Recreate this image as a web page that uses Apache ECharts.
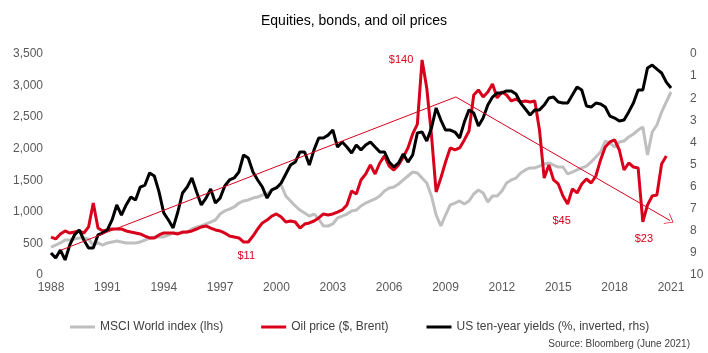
<!DOCTYPE html>
<html>
<head>
<meta charset="utf-8">
<title>Equities, bonds, and oil prices</title>
<script src="https://cdn.jsdelivr.net/npm/echarts@6/dist/echarts.min.js"></script>
<style>
  html, body { margin: 0; padding: 0; background: #fff; }
  #chart { width: 708px; height: 353px; }
</style>
</head>
<body>
<div id="chart"></div>
<script>
// quarterly points, 1988 Q2 .. 2021 Q2
const startYear = 1988
const startQuarter = 2

// MSCI World index (lhs)
const msci = [443, 475, 507, 554, 554, 570, 586, 586, 570, 475,
  507, 475, 507, 523, 538, 523, 507, 507, 507, 523,
  554, 586, 602, 602, 602, 633, 665, 665, 665, 681,
  729, 760, 776, 808, 839, 871, 966, 1014, 1045, 1077,
  1140, 1172, 1188, 1219, 1235, 1267, 1283, 1346, 1394, 1425,
  1251, 1172, 1093, 1029, 982, 934, 966, 887, 776, 776,
  808, 903, 934, 966, 1014, 1029, 1093, 1140, 1172, 1204,
  1251, 1330, 1378, 1394, 1441, 1505, 1568, 1631, 1615, 1536,
  1457, 1251, 950, 776, 950, 1109, 1140, 1172, 1124, 1172,
  1283, 1346, 1299, 1156, 1251, 1251, 1330, 1457, 1505, 1536,
  1615, 1663, 1695, 1695, 1726, 1758, 1774, 1742, 1710, 1710,
  1600, 1631, 1663, 1695, 1726, 1790, 1869, 1948, 2122, 2091,
  2027, 2106, 2122, 2186, 2233, 2296, 2344, 1900, 2265, 2376,
  2581, 2740, 2898]

// Brent, $ (own hidden scale)
const oil = [12.5, 11.1, 14.7, 16.9, 15.4, 16.1, 16.9, 15.4, 19.8, 37.1,
  19.0, 16.9, 17.6, 18.3, 18.3, 18.3, 16.9, 16.1, 15.4, 14.7,
  13.2, 11.8, 11.8, 14.0, 15.4, 15.4, 15.4, 14.7, 16.1, 16.1,
  16.9, 18.3, 19.8, 20.5, 19.0, 17.6, 16.9, 15.4, 13.2, 12.5,
  11.8, 8.9, 8.9, 13.2, 18.3, 22.7, 24.8, 27.7, 29.2, 27.0,
  23.4, 24.1, 23.4, 19.0, 21.9, 22.7, 24.1, 26.3, 29.2, 28.4,
  29.2, 30.6, 32.1, 35.7, 45.8, 43.7, 53.8, 58.1, 64.7, 58.1,
  66.1, 71.2, 63.9, 61.0, 64.7, 70.4, 77.0, 87.1, 94.3, 140.7,
  120.4, 86.4, 45.1, 55.2, 66.8, 77.0, 75.5, 77.0, 82.8, 89.3,
  115.3, 119.0, 113.9, 117.5, 123.3, 113.2, 117.5, 115.3, 111.0, 112.4,
  110.3, 111.0, 110.3, 111.0, 90.0, 55.2, 64.7, 53.8, 50.9, 42.2,
  36.4, 47.3, 44.4, 50.9, 54.5, 51.6, 56.7, 68.3, 77.7, 81.3,
  82.8, 75.5, 61.0, 66.1, 63.2, 62.5, 23.4, 35.7, 42.2, 42.9,
  65.4, 71.2]

// US 10y yield, % (rhs, inverted)
const yields = [9.0, 9.23, 8.87, 9.32, 8.64, 8.19, 7.96, 8.42, 8.78, 8.78,
  8.19, 8.1, 7.96, 7.51, 6.83, 7.29, 6.83, 6.47, 6.61, 6.02,
  5.93, 5.38, 5.52, 6.24, 7.19, 7.51, 7.87, 7.15, 6.29, 6.02,
  5.61, 6.24, 6.83, 6.52, 6.11, 6.74, 6.52, 5.97, 5.7, 5.61,
  5.34, 4.57, 4.71, 5.34, 5.7, 6.02, 6.52, 6.15, 6.06, 5.84,
  5.43, 5.02, 4.89, 4.43, 4.43, 5.02, 4.34, 3.8, 3.8, 3.67,
  3.44, 4.21, 3.98, 4.21, 4.48, 4.12, 4.34, 4.12, 3.98, 4.21,
  4.43, 4.43, 4.89, 5.11, 4.93, 4.52, 4.89, 4.57, 3.57, 3.53,
  3.94, 3.35, 2.44, 2.99, 3.44, 3.44, 3.53, 3.8, 3.08, 2.53,
  2.67, 3.26, 2.9, 2.31, 1.95, 1.76, 1.76, 1.67, 1.67, 1.81,
  2.22, 2.49, 2.76, 2.53, 2.53, 2.31, 1.99, 1.95, 2.17, 2.22,
  2.22, 1.86, 1.49, 1.63, 2.35, 2.4, 2.22, 2.26, 2.4, 2.81,
  2.9, 3.03, 2.99, 2.62, 2.22, 1.63, 1.63, 0.63, 0.5, 0.68,
  0.86, 1.27, 1.54]

// oil price call-outs: quarter index + text
const calloutIdx = [79, 42, 110, 126]
const calloutText = ['$140', '$11', '$45', '$23']

// hand-drawn trend arrow (quarter index, lhs value)
const trendPts = [[2.2, 396], [86.2, 2820], [131.8, 863]]

const categories = []
for (let i = 0; i < msci.length; i++) {
  const q = startQuarter - 1 + i
  categories.push((startYear + Math.floor(q / 4)) + ' Q' + (q % 4 + 1))
}

const RED = '#D9001B'
const font = 'Liberation Sans, Arial, sans-serif'
const calloutOffset = [[-21, 0], [-2, 14], [-6, 17], [1, 17]]

const chart = echarts.init(document.getElementById('chart'))
chart.setOption({
  animation: false,
  textStyle: { fontFamily: font },
  title: [{
    text: 'Equities, bonds, and oil prices',
    left: 'center',
    top: 9,
    textStyle: { fontSize: 14, fontWeight: 'normal', color: '#000', fontFamily: font }
  }, {
    text: 'Source: Bloomberg (June 2021)',
    right: 13,
    top: 334,
    textStyle: { fontSize: 10, fontWeight: 'normal', color: '#404040', fontFamily: font }
  }],
  legend: {
    top: 316,
    left: 65,
    icon: 'rect',
    itemWidth: 25,
    itemHeight: 3,
    itemGap: 38,
    data: ['MSCI World index (lhs)', 'Oil price ($, Brent)', 'US ten-year yields (%, inverted, rhs)'],
    textStyle: { fontSize: 12, color: '#404040', fontFamily: font }
  },
  grid: { left: 51, right: 37, top: 54, bottom: 78 },
  xAxis: [{
    type: 'category',
    data: categories,
    boundaryGap: false,
    axisLine: { show: false },
    axisTick: { show: false },
    splitLine: { show: false },
    axisLabel: {
      interval: 11,
      margin: 7,
      color: '#595959',
      fontSize: 12,
      formatter: v => v.slice(0, 4)
    }
  }, {
    type: 'value',
    min: 0,
    max: msci.length - 1,
    show: false
  }],
  yAxis: [{
    type: 'value',
    min: 0,
    max: 3500,
    interval: 500,
    axisLine: { show: false },
    axisTick: { show: false },
    splitLine: { show: false },
    axisLabel: {
      margin: 8,
      color: '#595959',
      fontSize: 12,
      formatter: v => v.toLocaleString('en-US')
    }
  }, {
    type: 'value',
    position: 'right',
    inverse: true,
    min: 0,
    max: 10,
    interval: 1,
    axisLine: { show: false },
    axisTick: { show: false },
    splitLine: { show: false },
    axisLabel: { margin: 19, color: '#595959', fontSize: 12 }
  }, {
    type: 'value',
    min: -15,
    max: 145,
    show: false
  }],
  series: [{
    name: 'MSCI World index (lhs)',
    type: 'line',
    data: msci,
    showSymbol: false,
    symbol: 'none',
    color: '#BFBFBF',
    lineStyle: { width: 3, color: '#BFBFBF' }
  }, {
    name: 'Oil price ($, Brent)',
    type: 'line',
    yAxisIndex: 2,
    data: oil,
    showSymbol: false,
    symbol: 'none',
    color: RED,
    lineStyle: { width: 3, color: RED },
    markPoint: {
      symbol: 'circle',
      symbolSize: 1,
      itemStyle: { color: 'rgba(0,0,0,0)' },
      silent: true,
      data: calloutIdx.map((idx, k) => ({
        coord: [categories[idx], oil[idx]],
        label: {
          show: true,
          position: 'inside',
          offset: calloutOffset[k],
          formatter: calloutText[k],
          color: RED,
          fontSize: 11,
          fontFamily: font
        }
      }))
    }
  }, {
    name: 'US ten-year yields (%, inverted, rhs)',
    type: 'line',
    yAxisIndex: 1,
    data: yields,
    showSymbol: false,
    symbol: 'none',
    color: '#000',
    lineStyle: { width: 3, color: '#000' }
  }, {
    name: 'trend',
    type: 'line',
    xAxisIndex: 1,
    yAxisIndex: 0,
    data: [],
    markLine: {
      silent: true,
      label: { show: false },
      lineStyle: { type: 'solid', width: 1, color: RED },
      data: [
        [{ coord: trendPts[0], symbol: 'none' }, { coord: trendPts[1], symbol: 'none' }],
        [{ coord: trendPts[1], symbol: 'none' },
         { coord: trendPts[2], symbol: 'path://M0,0 L10,12 L8.6,12 L0,1.8 L-8.6,12 L-10,12 Z', symbolSize: [12, 8] }]
      ]
    }
  }]
})
</script>
</body>
</html>
